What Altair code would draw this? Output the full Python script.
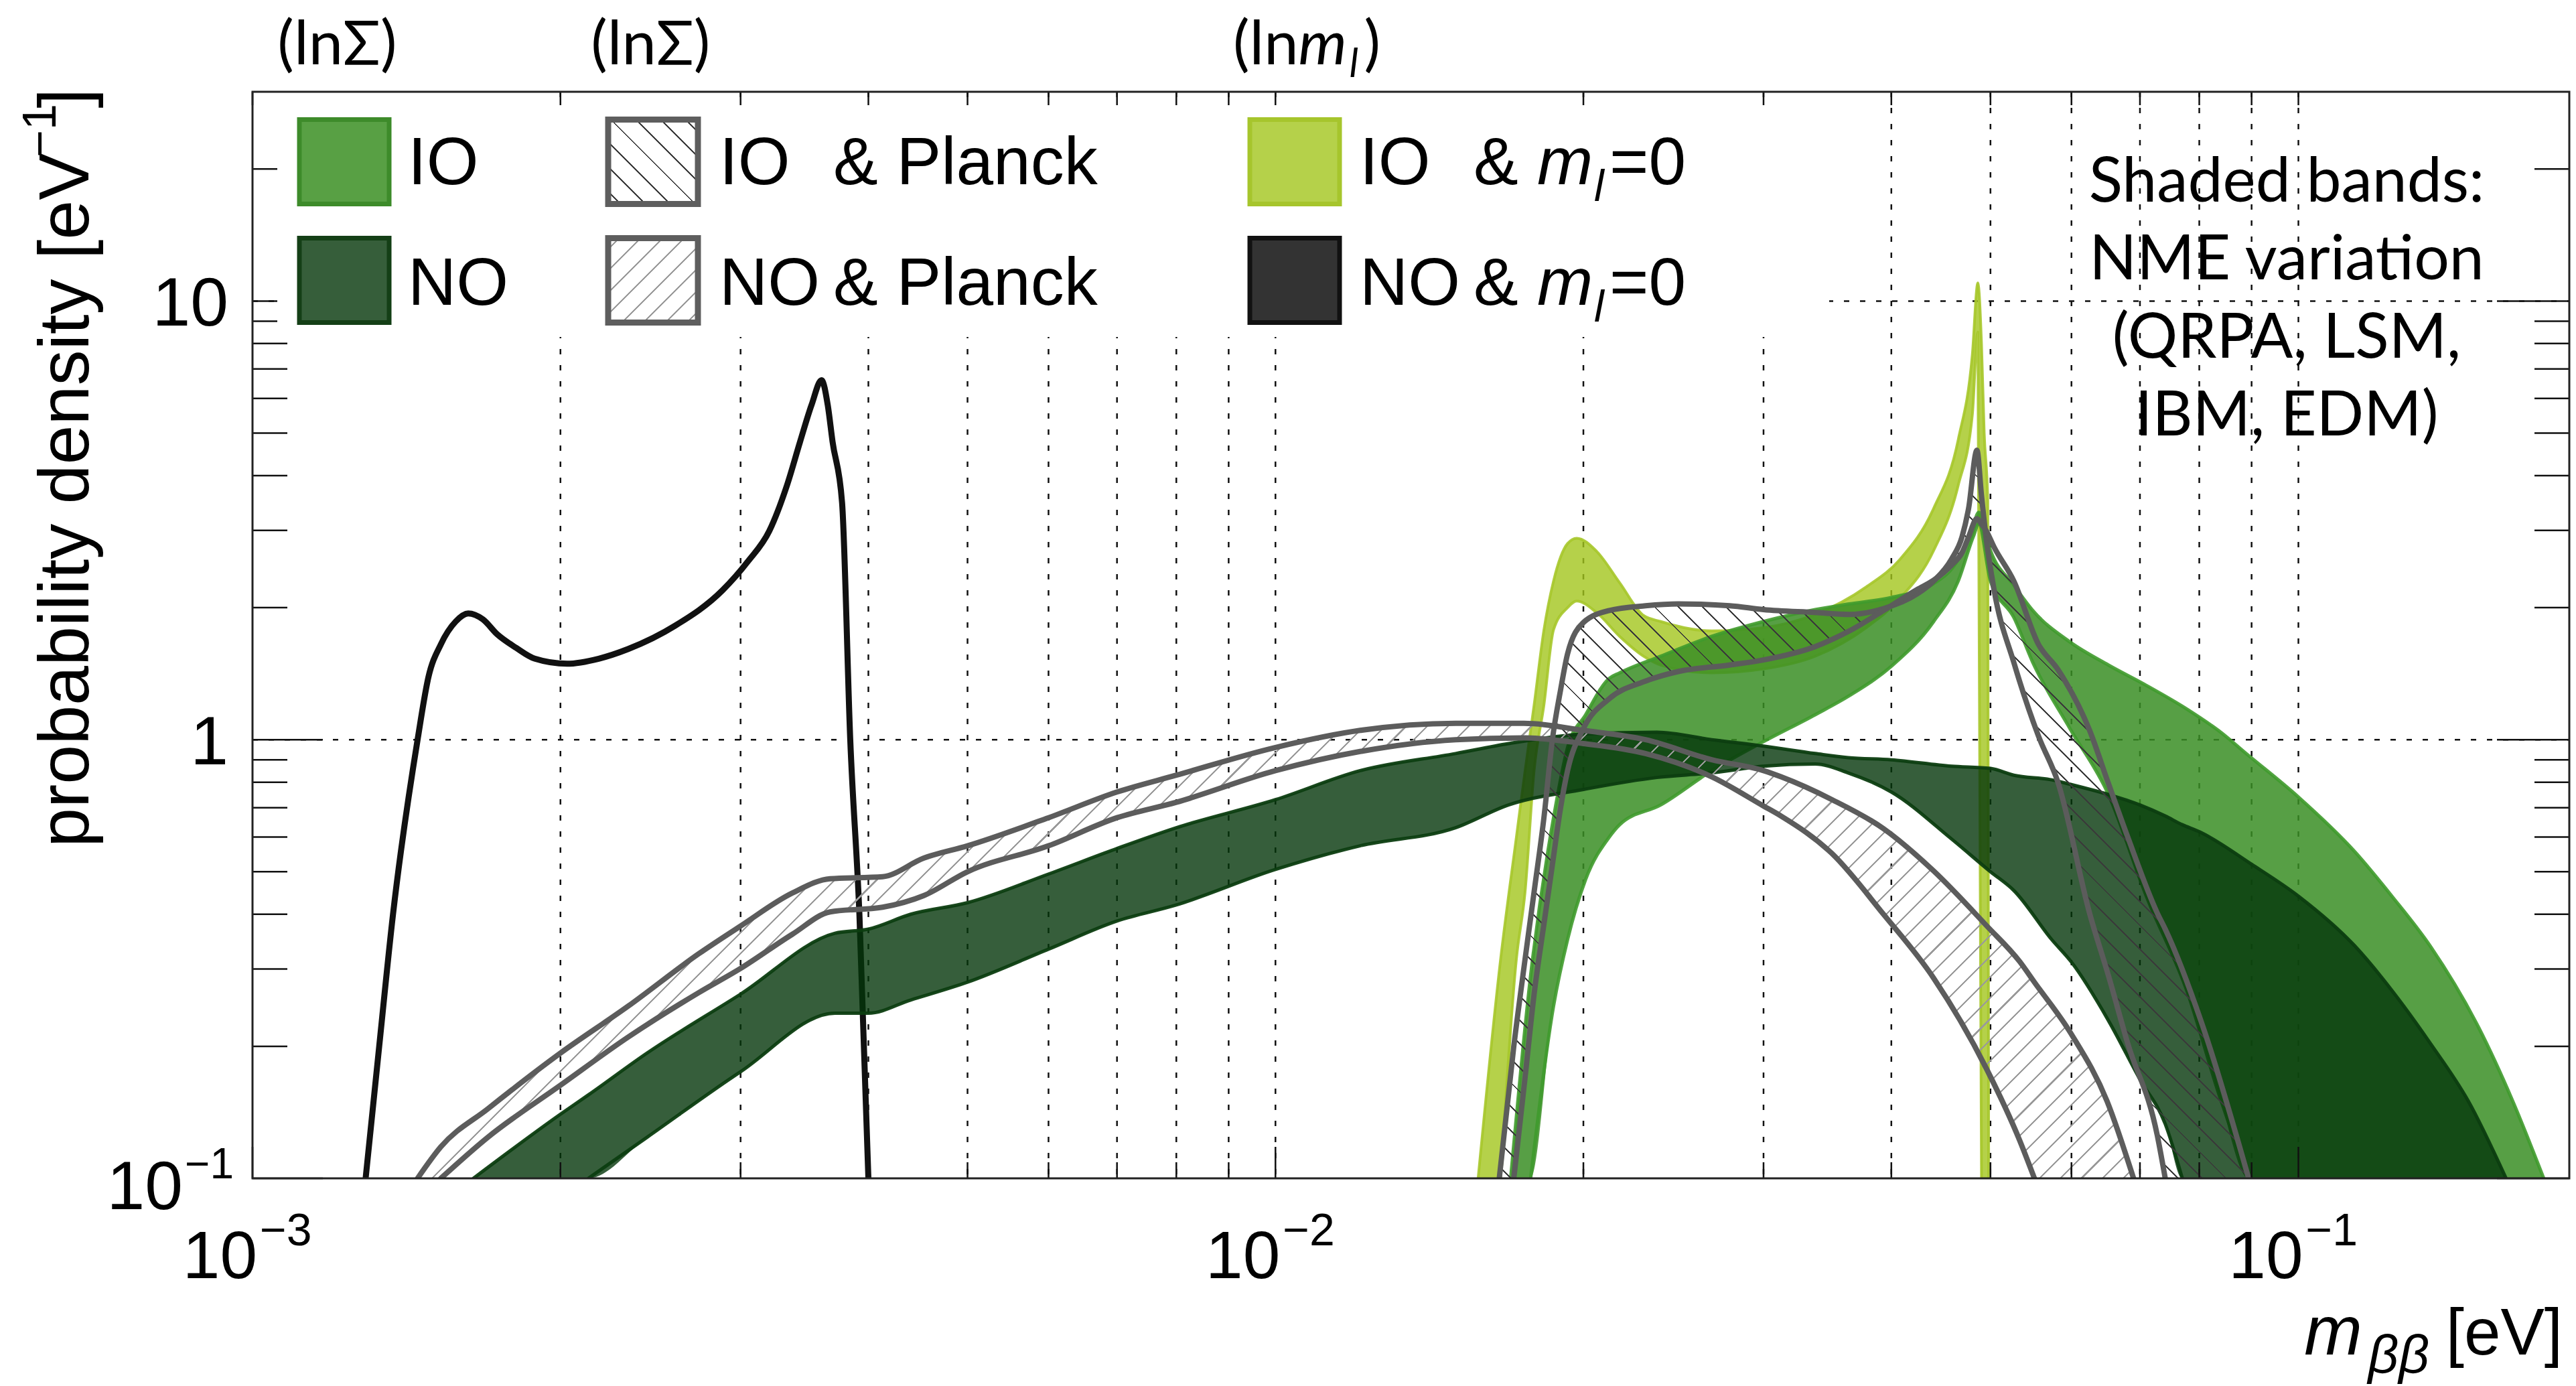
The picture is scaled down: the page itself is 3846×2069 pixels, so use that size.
import math
import altair as alt
import pandas as pd

# ---------------- values ----------------
# NO & m_l=0 (thin black band)
NO_ML0_M = [1.29e-3, 1.33e-3, 1.372e-3, 1.45e-3, 1.486e-3, 1.528e-3, 1.58e-3, 1.625e-3, 1.68e-3,
            1.734e-3, 1.81e-3, 1.888e-3, 2.03e-3, 2.18e-3, 2.33e-3, 2.59e-3, 2.88e-3, 3.05e-3,
            3.20e-3, 3.33e-3, 3.43e-3, 3.52e-3, 3.60e-3, 3.65e-3, 3.69e-3, 3.77e-3, 3.84e-3,
            3.92e-3, 4.00e-3]
NO_ML0_P = [0.1, 0.2, 0.40, 1.0, 1.39, 1.65, 1.86, 1.94, 1.88, 1.74, 1.62, 1.53, 1.49, 1.53,
            1.61, 1.82, 2.19, 2.55, 2.99, 3.8, 4.78, 5.8, 6.6, 5.8, 4.78, 3.47, 1.0, 0.40, 0.1]

# NO band (NME variation)
NO_M = [1.644e-3, 2.0e-3, 2.13e-3, 2.43e-3, 3.0e-3, 3.71e-3, 4.0e-3, 4.4e-3, 5.0e-3, 6.0e-3,
        7.0e-3, 8.0e-3, 1.0e-2, 1.21e-2, 1.5e-2, 1.69e-2, 2.0e-2, 2.36e-2, 2.67e-2, 3.0e-2,
        3.37e-2, 3.63e-2, 4.0e-2, 4.58e-2, 5.0e-2, 5.27e-2, 5.74e-2, 6.0e-2, 6.52e-2, 7.0e-2,
        7.41e-2, 7.70e-2, 8.0e-2, 9.0e-2, 0.1, 0.1135, 0.1236, 0.1346, 0.1466, 0.1596]
NO_UP = [0.1, 0.140, 0.155, 0.193, 0.263, 0.362, 0.37, 0.40, 0.425, 0.494,
         0.565, 0.63, 0.73, 0.85, 0.93, 0.98, 1.03, 1.04, 1.0, 0.967,
         0.93, 0.91, 0.90, 0.87, 0.86, 0.83, 0.81, 0.79, 0.75, 0.71,
         0.67, 0.64, 0.617, 0.52, 0.44, 0.339, 0.267, 0.203, 0.150, 0.1]
NO_LO = [0.1, 0.1, 0.1, 0.124, 0.175, 0.238, 0.238, 0.255, 0.28, 0.333,
         0.386, 0.42, 0.506, 0.573, 0.63, 0.71, 0.77, 0.82, 0.84, 0.87,
         0.88, 0.84, 0.76, 0.594, 0.50, 0.453, 0.35, 0.311, 0.229, 0.168,
         0.133, 0.1, 0.1, 0.1, 0.1, 0.1, 0.1, 0.1, 0.1, 0.1]

# IO band
IO_M = [1.698e-2, 1.776e-2, 1.87e-2, 1.93e-2, 2.01e-2, 2.12e-2, 2.17e-2, 2.38e-2, 2.67e-2, 3.0e-2,
        3.37e-2, 3.64e-2, 4.0e-2, 4.4e-2, 4.65e-2, 4.81e-2, 4.87e-2, 5.0e-2, 5.27e-2, 5.5e-2,
        5.98e-2, 6.52e-2, 7.1e-2, 7.8e-2, 8.35e-2, 8.94e-2, 0.1, 0.1135, 0.1236, 0.1346,
        0.150, 0.162, 0.1737]
IO_UP = [0.1, 0.29, 0.664, 0.96, 1.14, 1.38, 1.42, 1.55, 1.72, 1.86,
         1.98, 2.04, 2.11, 2.27, 2.58, 3.08, 3.3, 2.7, 2.25, 1.97,
         1.67, 1.48, 1.33, 1.17, 1.05, 0.92, 0.74, 0.556, 0.438, 0.338,
         0.221, 0.150, 0.1]
IO_LO = [0.1, 0.1, 0.247, 0.35, 0.48, 0.60, 0.64, 0.71, 0.85, 0.99,
         1.14, 1.26, 1.47, 1.86, 2.3, 2.9, 3.1, 2.3, 1.9, 1.5,
         1.06, 0.75, 0.44, 0.263, 0.157, 0.1, 0.1, 0.1, 0.1, 0.1,
         0.1, 0.1, 0.1]

# IO & m_l=0 band
ML_M = [1.578e-2, 1.66e-2, 1.72e-2, 1.754e-2, 1.79e-2, 1.83e-2, 1.87e-2, 1.93e-2, 1.97e-2, 2.06e-2,
        2.17e-2, 2.29e-2, 2.38e-2, 2.67e-2, 3.0e-2, 3.37e-2, 3.78e-2, 4.08e-2, 4.4e-2, 4.65e-2,
        4.8e-2, 4.86e-2, 4.9e-2, 4.93e-2, 4.97e-2, 4.98e-2]
ML_UP = [0.1, 0.316, 0.6, 0.85, 1.2, 1.78, 2.3, 2.8, 2.88, 2.69,
         2.28, 1.92, 1.86, 1.77, 1.80, 1.93, 2.23, 2.58, 3.37, 4.83,
         7.55, 11.0, 8.0, 5.0, 3.5, 0.1]
ML_LO = [0.1, 0.1, 0.316, 0.45, 0.85, 1.2, 1.78, 2.0, 2.07, 1.95,
         1.72, 1.55, 1.48, 1.42, 1.45, 1.55, 1.8, 2.1, 2.7, 3.8,
         5.5, 8.5, 0.1, 0.1, 0.1, 0.1]

# IO & Planck (two boundary curves)
IP_M = [1.655e-2, 1.71e-2, 1.754e-2, 1.79e-2, 1.83e-2, 1.865e-2, 1.90e-2, 1.93e-2, 2.0e-2, 2.12e-2,
        2.30e-2, 2.475e-2, 2.78e-2, 3.0e-2, 3.37e-2, 3.64e-2, 3.93e-2, 4.24e-2, 4.40e-2, 4.58e-2,
        4.69e-2, 4.76e-2, 4.85e-2, 4.90e-2, 4.95e-2, 5.04e-2, 5.27e-2, 5.57e-2, 5.82e-2, 6.25e-2,
        6.52e-2, 6.81e-2, 7.28e-2, 7.41e-2, 8.07e-2, 8.94e-2]
IP_A = [0.1, 0.2, 0.316, 0.45, 0.664, 1.0, 1.3, 1.57, 1.85, 1.97,
        2.02, 2.04, 2.02, 1.98, 1.95, 1.93, 1.99, 2.15, 2.3, 2.58,
        2.9, 3.37, 4.57, 3.6, 2.9, 2.2, 1.5, 1.02, 0.80, 0.402,
        0.29, 0.203, 0.125, 0.1, 0.1, 0.1]
IP_B = [0.1, 0.1, 0.17, 0.263, 0.38, 0.518, 0.70, 0.85, 1.06, 1.24,
        1.36, 1.43, 1.48, 1.52, 1.63, 1.77, 1.97, 2.2, 2.31, 2.5,
        2.67, 2.9, 3.19, 3.1, 3.0, 2.75, 2.3, 1.65, 1.445, 1.05,
        0.795, 0.6, 0.402, 0.37, 0.221, 0.1]

# NO & Planck (two boundary curves)
NP_M = [1.45e-3, 1.528e-3, 1.698e-3, 2.0e-3, 2.33e-3, 2.73e-3, 3.0e-3, 3.37e-3, 3.67e-3, 4.13e-3,
        4.53e-3, 5.0e-3, 6.0e-3, 7.0e-3, 8.0e-3, 1.0e-2, 1.21e-2, 1.5e-2, 1.75e-2, 2.0e-2,
        2.3e-2, 2.67e-2, 3.0e-2, 3.12e-2, 3.5e-2, 3.93e-2, 4.4e-2, 4.96e-2, 5.34e-2, 5.52e-2,
        6.0e-2, 6.5e-2, 6.9e-2]
NP_U = [0.1, 0.118, 0.144, 0.193, 0.247, 0.325, 0.376, 0.447, 0.482, 0.487,
        0.537, 0.573, 0.664, 0.76, 0.83, 0.96, 1.05, 1.09, 1.09, 1.05,
        1.0, 0.90, 0.85, 0.823, 0.73, 0.627, 0.502, 0.376, 0.312, 0.28,
        0.213, 0.15, 0.1]
NP_L = [0.1, 0.1, 0.124, 0.163, 0.21, 0.265, 0.301, 0.36, 0.405, 0.415,
        0.441, 0.50, 0.573, 0.664, 0.72, 0.85, 0.94, 1.0, 1.01, 0.98,
        0.93, 0.823, 0.706, 0.67, 0.55, 0.40, 0.286, 0.177, 0.122, 0.1,
        0.1, 0.1, 0.1]

# ticks, grid, labels
X_MAJOR = [1e-3, 1e-2, 1e-1]
X_MINOR = [2e-3, 3e-3, 4e-3, 5e-3, 6e-3, 7e-3, 8e-3, 9e-3,
           2e-2, 3e-2, 4e-2, 5e-2, 6e-2, 7e-2, 8e-2, 9e-2]
X_GRID = [2e-3, 3e-3, 4e-3, 5e-3, 6e-3, 7e-3, 8e-3, 9e-3, 1e-2,
          2e-2, 3e-2, 4e-2, 5e-2, 6e-2, 7e-2, 8e-2, 9e-2, 1e-1]
Y_MAJOR = [0.1, 1.0, 10.0]
Y_MINOR = [0.2, 0.3, 0.4, 0.5, 0.6, 0.7, 0.8, 0.9, 2, 3, 4, 5, 6, 7, 8, 9, 20]
Y_GRID = [1.0, 10.0]
X_LABEL_BASE = ["10", "10", "10"]
X_LABEL_EXP = ["\u22123", "\u22122", "\u22121"]
Y_LABEL_VALS = [1.0, 10.0]
Y_LABEL_TXT = ["1", "10"]
Y_LOW_VAL = [0.1]
ANNOT_M = [1.21e-3, 2.45e-3]
ANNOT_TXT = ["(ln\u03a3)", "(ln\u03a3)"]
ANNOT3_M = [1.053e-2]
NOTE_LINES = ["Shaded bands:", "NME variation", "(QRPA, LSM,", "IBM, EDM)"]

for a, b in [(NO_ML0_M, NO_ML0_P), (NO_M, NO_UP), (NO_M, NO_LO), (IO_M, IO_UP), (IO_M, IO_LO),
             (ML_M, ML_UP), (ML_M, ML_LO), (IP_M, IP_A), (IP_M, IP_B), (NP_M, NP_U), (NP_M, NP_L)]:
    assert len(a) == len(b)

# ---------------- geometry / style ----------------
W, H = 3459, 1622
XMIN, XMAX = 1e-3, 0.184
YMIN, YMAX = 0.1, 30.0
SANS = "Liberation Sans"
ALT_FONT = "Lato"
INTERP = "monotone"

xs = alt.Scale(type="log", domain=[XMIN, XMAX], nice=False)
ys = alt.Scale(type="log", domain=[YMIN, YMAX], nice=False)


def ex(f):
    return alt.X(f"{f}:Q", scale=xs, axis=None)


def ey(f):
    return alt.Y(f"{f}:Q", scale=ys, axis=None)


def px(m):
    return (math.log10(m) - math.log10(XMIN)) / (math.log10(XMAX) - math.log10(XMIN)) * W


def py(p):
    return (math.log10(YMAX) - math.log10(p)) / (math.log10(YMAX) - math.log10(YMIN)) * H


DUMMY = pd.DataFrame({"d": [0]})


def hatch(w, h, spacing, lw, color, kind, clear="rgba(255,255,255,0)"):
    r = h / w
    a = (1 + r) / (1 + r * r)
    b = a * r
    L = (w + h) / math.sqrt(2)
    n = max(1, int(round(L / spacing)))
    half = (lw / 2) / L
    stops = []
    for i in range(n):
        c = (i + 0.5) / n
        stops += [(c - half, clear), (c - half, color), (c + half, color), (c + half, clear)]
    gs = [alt.GradientStop(offset=round(o, 6), color=col) for o, col in stops]
    if kind == "/":
        return alt.LinearGradient(gradient="linear", stops=gs, x1=0, y1=0, x2=a, y2=b)
    return alt.LinearGradient(gradient="linear", stops=gs, x1=0, y1=1, x2=a, y2=1 - b)


def band(m, lo, up, color, op, interp=INTERP):
    d = pd.DataFrame({"m": m, "lo": lo, "up": up})
    return alt.Chart(d).mark_area(color=color, fillOpacity=op, clip=True, interpolate=interp).encode(
        x=ex("m"), y=ey("lo"), y2=alt.Y2("up:Q"))


def edge(m, v, color, width, op=1.0, interp=INTERP):
    n = len(v)
    keep = [i for i in range(n) if v[i] > 0.1 or (i > 0 and v[i - 1] > 0.1) or (i < n - 1 and v[i + 1] > 0.1)]
    d = pd.DataFrame({"m": [m[i] for i in keep], "v": [v[i] for i in keep], "o": list(range(len(keep)))})
    return alt.Chart(d).mark_line(color=color, strokeWidth=width, opacity=op, clip=True, interpolate=interp,
                                  strokeJoin="round", strokeCap="round").encode(
        x=ex("m"), y=ey("v"), order="o:Q")


def hatch_band(m, a, b, spacing, lw, color, kind):
    w = px(max(m)) - px(min(m))
    top = max(max(a), max(b))
    h = py(YMIN) - py(top)
    g = hatch(w, h, spacing, lw, color, kind)
    d = pd.DataFrame({"m": m, "a": a, "b": b})
    return alt.Chart(d).mark_area(fill=g, clip=True, interpolate=INTERP).encode(
        x=ex("m"), y=ey("a"), y2=alt.Y2("b:Q"))


def vtext(txt, x, y, size, align="left", baseline="alphabetic", font=SANS, style="normal", angle=0, color="black"):
    return alt.Chart(DUMMY).mark_text(align=align, baseline=baseline, font=font, fontSize=size,
                                      fontStyle=style, angle=angle, color=color).encode(
        x=alt.value(x), y=alt.value(y), text=alt.value(txt))


layers = []

# grid
GRID = dict(color="#111", strokeWidth=2.5, strokeDash=[8, 16])
layers.append(alt.Chart(pd.DataFrame({"m": X_GRID})).mark_rule(**GRID).encode(
    x=ex("m"), y=alt.value(0), y2=alt.value(H)))
layers.append(alt.Chart(pd.DataFrame({"p": Y_GRID})).mark_rule(**GRID).encode(
    y=ey("p"), x=alt.value(0), x2=alt.value(W)))

# black NO & m_l=0
layers.append(edge(NO_ML0_M, NO_ML0_P, "#111111", 9))

# IO & m_l=0
layers.append(band(ML_M, ML_LO, ML_UP, "#a2c51d", 0.8))
layers.append(edge(ML_M, ML_UP, "#a6c62a", 4, 0.9))
layers.append(edge(ML_M, ML_LO, "#a6c62a", 4, 0.9))
# IO
layers.append(band(IO_M, IO_LO, IO_UP, "#3a8e24", 0.85))
layers.append(edge(IO_M, IO_UP, "#3f9a2c", 5, 0.9))
layers.append(edge(IO_M, IO_LO, "#3f9a2c", 5, 0.9))
# NO
layers.append(band(NO_M, NO_LO, NO_UP, "#04360a", 0.8))
layers.append(edge(NO_M, NO_UP, "#0c3d10", 5, 0.95))
layers.append(edge(NO_M, NO_LO, "#0c3d10", 5, 0.95))

# Planck hatched bands
layers.append(hatch_band(NP_M, NP_L, NP_U, 22, 2.2, "#9a9a9a", "/"))
layers.append(hatch_band(IP_M, IP_B, IP_A, 25, 2.0, "#3a3a3a", "\\"))
for m, v in [(NP_M, NP_U), (NP_M, NP_L), (IP_M, IP_A), (IP_M, IP_B)]:
    layers.append(edge(m, v, "#5c5c5c", 8))

# ticks (inside, all four sides)
TK = dict(color="#111", strokeWidth=2.5)
layers.append(alt.Chart(pd.DataFrame({"m": X_MAJOR})).mark_rule(**TK).encode(x=ex("m"), y=alt.value(H), y2=alt.value(H - 47)))
layers.append(alt.Chart(pd.DataFrame({"m": X_MINOR})).mark_rule(**TK).encode(x=ex("m"), y=alt.value(H), y2=alt.value(H - 24)))
layers.append(alt.Chart(pd.DataFrame({"m": X_MAJOR + X_MINOR})).mark_rule(**TK).encode(x=ex("m"), y=alt.value(0), y2=alt.value(20)))
layers.append(alt.Chart(pd.DataFrame({"p": Y_MAJOR})).mark_rule(**TK).encode(y=ey("p"), x=alt.value(0), x2=alt.value(105)))
layers.append(alt.Chart(pd.DataFrame({"p": Y_MINOR})).mark_rule(**TK).encode(y=ey("p"), x=alt.value(0), x2=alt.value(52)))
layers.append(alt.Chart(pd.DataFrame({"p": Y_MAJOR})).mark_rule(**TK).encode(y=ey("p"), x=alt.value(W), x2=alt.value(W - 108)))
layers.append(alt.Chart(pd.DataFrame({"p": Y_MINOR})).mark_rule(**TK).encode(y=ey("p"), x=alt.value(W), x2=alt.value(W - 52)))

# legend box
layers.append(alt.Chart(DUMMY).mark_rect(fill="white").encode(
    x=alt.value(37), x2=alt.value(2354), y=alt.value(22), y2=alt.value(366)))

COLS = [70, 531, 1489]
SW = 134
ROWS = [41.5, 218.5]
SH = 126


def swatch(x, y, fill, stroke, sw):
    return alt.Chart(DUMMY).mark_rect(fill=fill, stroke=stroke, strokeWidth=sw).encode(
        x=alt.value(x), x2=alt.value(x + SW), y=alt.value(y), y2=alt.value(y + SH))


layers.append(swatch(COLS[0], ROWS[0], "#58a044", "#3d8b2a", 7))
layers.append(swatch(COLS[0], ROWS[1], "#365e3a", "#143f16", 7))
layers.append(swatch(COLS[1], ROWS[0], hatch(SW, SH, 25, 2.0, "#3a3a3a", "\\", "white"), "#5e5e5e", 9))
layers.append(swatch(COLS[1], ROWS[1], hatch(SW, SH, 22, 2.2, "#9a9a9a", "/", "white"), "#5e5e5e", 9))
layers.append(swatch(COLS[2], ROWS[0], "#b5d14a", "#a6c52c", 7))
layers.append(swatch(COLS[2], ROWS[1], "#333333", "#111111", 7))

LEG_FS = 100
RB = [138, 318]
layers.append(vtext("IO", 232, RB[0], LEG_FS))
layers.append(vtext("NO", 232, RB[1], LEG_FS))
layers.append(vtext("IO", 697, RB[0], LEG_FS))
layers.append(vtext("NO", 697, RB[1], LEG_FS))
layers.append(vtext("& Planck", 867, RB[0], LEG_FS))
layers.append(vtext("& Planck", 867, RB[1], LEG_FS))
for r in range(2):
    layers.append(vtext(["IO", "NO"][r], 1653, RB[r], LEG_FS))
    layers.append(vtext("&", 1823, RB[r], LEG_FS))
    layers.append(vtext("m", 1918, RB[r], LEG_FS, style="italic"))
    layers.append(vtext("l", 2003, RB[r] + 25, 66, style="italic"))
    layers.append(vtext("=0", 2026, RB[r], LEG_FS))

# frame
layers.append(alt.Chart(DUMMY).mark_rect(fill="white", fillOpacity=0, stroke="#222", strokeWidth=3).encode(
    x=alt.value(0), x2=alt.value(W), y=alt.value(0), y2=alt.value(H)))

# x tick labels
xl = pd.DataFrame({"m": X_MAJOR, "b": X_LABEL_BASE, "e": X_LABEL_EXP})
layers.append(alt.Chart(xl).mark_text(align="right", baseline="alphabetic", font=SANS, fontSize=100, dx=7).encode(
    x=ex("m"), y=alt.value(1771), text="b:N"))
layers.append(alt.Chart(xl).mark_text(align="left", baseline="alphabetic", font=SANS, fontSize=68, dx=11).encode(
    x=ex("m"), y=alt.value(1722), text="e:N"))
# y tick labels
yl = pd.DataFrame({"p": Y_LABEL_VALS, "t": Y_LABEL_TXT})
layers.append(alt.Chart(yl).mark_text(align="right", baseline="alphabetic", font=SANS, fontSize=102, dy=37).encode(
    x=alt.value(-36), y=ey("p"), text="t:N"))
yl2 = pd.DataFrame({"p": Y_LOW_VAL})
layers.append(alt.Chart(yl2).mark_text(align="right", baseline="alphabetic", font=SANS, fontSize=102, dy=46).encode(
    x=alt.value(-104), y=ey("p"), text=alt.value("10")))
layers.append(alt.Chart(yl2).mark_text(align="left", baseline="alphabetic", font=SANS, fontSize=64, dy=0).encode(
    x=alt.value(-101), y=ey("p"), text=alt.value("\u22121")))

# axis titles
layers.append(vtext("[eV]", 3449, 1885, 98, align="right"))
layers.append(vtext("\u03b2\u03b2", 3250, 1912, 80, align="right", style="italic"))
layers.append(vtext("m", 3150, 1885, 104, align="right", style="italic"))
layers.append(vtext("probability density [eV", -245, 91, 106, align="right", angle=270))
layers.append(vtext("\u22121", -294, 18, 70, align="right", angle=270))
layers.append(vtext("]", -245, -5, 106, align="right", angle=270))

# top annotations
an = pd.DataFrame({"m": ANNOT_M, "t": ANNOT_TXT})
layers.append(alt.Chart(an).mark_text(align="center", baseline="alphabetic", font=ALT_FONT, fontSize=92).encode(
    x=ex("m"), y=alt.value(-41), text="t:N"))
an3 = pd.DataFrame({"m": ANNOT3_M})
layers.append(alt.Chart(an3).mark_text(align="right", baseline="alphabetic", font=ALT_FONT, fontSize=92).encode(
    x=ex("m"), y=alt.value(-41), text=alt.value("(ln")))
layers.append(alt.Chart(an3).mark_text(align="left", baseline="alphabetic", font=ALT_FONT, fontSize=92, fontStyle="italic").encode(
    x=ex("m"), y=alt.value(-41), text=alt.value("m")))
layers.append(alt.Chart(an3).mark_text(align="left", baseline="alphabetic", font=ALT_FONT, fontSize=60, fontStyle="italic", dx=76).encode(
    x=ex("m"), y=alt.value(-22), text=alt.value("l")))
layers.append(alt.Chart(an3).mark_text(align="left", baseline="alphabetic", font=ALT_FONT, fontSize=92, dx=98).encode(
    x=ex("m"), y=alt.value(-41), text=alt.value(")")))

# NME note
layers.append(alt.Chart(DUMMY).mark_text(align="center", baseline="alphabetic", font=ALT_FONT, fontSize=93,
                                         lineHeight=116.5).encode(
    x=alt.value(3037), y=alt.value(163.5), text=alt.value(NOTE_LINES)))

chart = alt.layer(*layers).properties(
    width=W, height=H,
    autosize=alt.AutoSizeParams(type="none"),
    padding={"left": 377, "top": 137, "right": 10, "bottom": 310},
    background="white",
).configure_view(stroke=None)

chart.save("out.html", embed_options={"renderer": "svg", "actions": False})
